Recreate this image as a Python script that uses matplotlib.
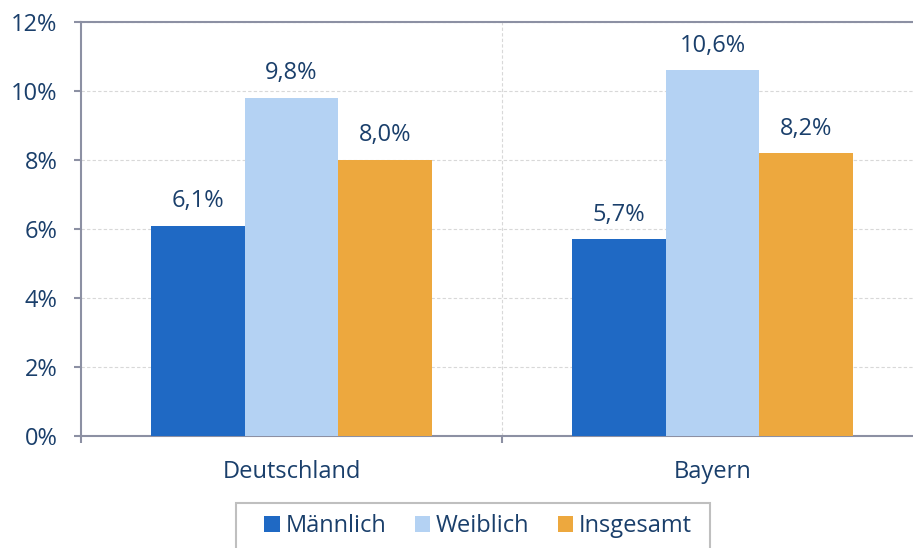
import matplotlib.pyplot as plt
from matplotlib.patches import Rectangle
import numpy as np

# datos del gráfico
regionen = ['Deutschland', 'Bayern']
serien = ['Männlich', 'Weiblich', 'Insgesamt']
maennlich = [6.1, 5.7]
weiblich = [9.8, 10.6]
insgesamt = [8.0, 8.2]
farben = ['#1F69C4', '#B4D2F3', '#EDA83E']
texto = '#1A3F6B'
gris = '#8C90A3'

plt.rcParams['font.family'] = ['Open Sans', 'DejaVu Sans']

fig = plt.figure(figsize=(9.13, 5.48), dpi=100)
ax = fig.add_axes([81 / 913, 1 - 436 / 548, 842 / 913, (436 - 22) / 548])

x = np.arange(len(regionen))
ancho = 0.222
for i, (nombre, valores) in enumerate(zip(serien, [maennlich, weiblich, insgesamt])):
    pos = x + (i - 1) * ancho
    ax.bar(pos, valores, ancho, color=farben[i], label=nombre, zorder=3)
    for p, v in zip(pos, valores):
        ax.annotate(f'{v:.1f}%'.replace('.', ','), (p, v), xytext=(0, 9),
                    textcoords='offset points', ha='center', va='bottom',
                    fontsize=17, color=texto)

ax.set_xlim(-0.5, 1.5)
ax.set_ylim(0, 12)
ax.set_yticks(np.arange(0, 13, 2))
ax.set_yticklabels([f'{v}%' for v in range(0, 13, 2)])
ax.set_xticks(x)
ax.set_xticklabels(regionen)
ax.set_xticks([-0.5, 0.5, 1.5], minor=True)

ax.yaxis.grid(True, color='#D8D8D8', linestyle=(0, (3, 2)), linewidth=0.8, zorder=0)
ax.axvline(0.5, color='#D8D8D8', linestyle=(0, (3, 2)), linewidth=0.8, zorder=0)

for lado in ['left', 'bottom', 'top', 'right']:
    ax.spines[lado].set_color(gris)
    ax.spines[lado].set_linewidth(1.5)
ax.tick_params(axis='y', colors=gris, labelcolor=texto, labelsize=17,
               length=5, width=1.5, pad=12)
ax.tick_params(axis='x', which='major', length=0, labelcolor=texto,
               labelsize=17, pad=17)
ax.tick_params(axis='x', which='minor', length=5, width=1.5, colors=gris)

# leyenda sin marco + recuadro aparte (cortado abajo como en el original)
ley = fig.legend(loc='center', bbox_to_anchor=(478 / 913, 1 - 526 / 548),
                 ncol=3, fontsize=17, frameon=False,
                 handlelength=0.65, handleheight=0.65,
                 handletextpad=0.25, columnspacing=1.2, borderpad=0,
                 borderaxespad=0)
for t in ley.get_texts():
    t.set_color(texto)
fig.patches.append(Rectangle((236 / 913, -0.05), 474 / 913, 0.05 + 1 - 503 / 548,
                             transform=fig.transFigure, fill=False,
                             edgecolor='#BFBFBF', linewidth=1.5))

fig.savefig('out.png', dpi=100)
